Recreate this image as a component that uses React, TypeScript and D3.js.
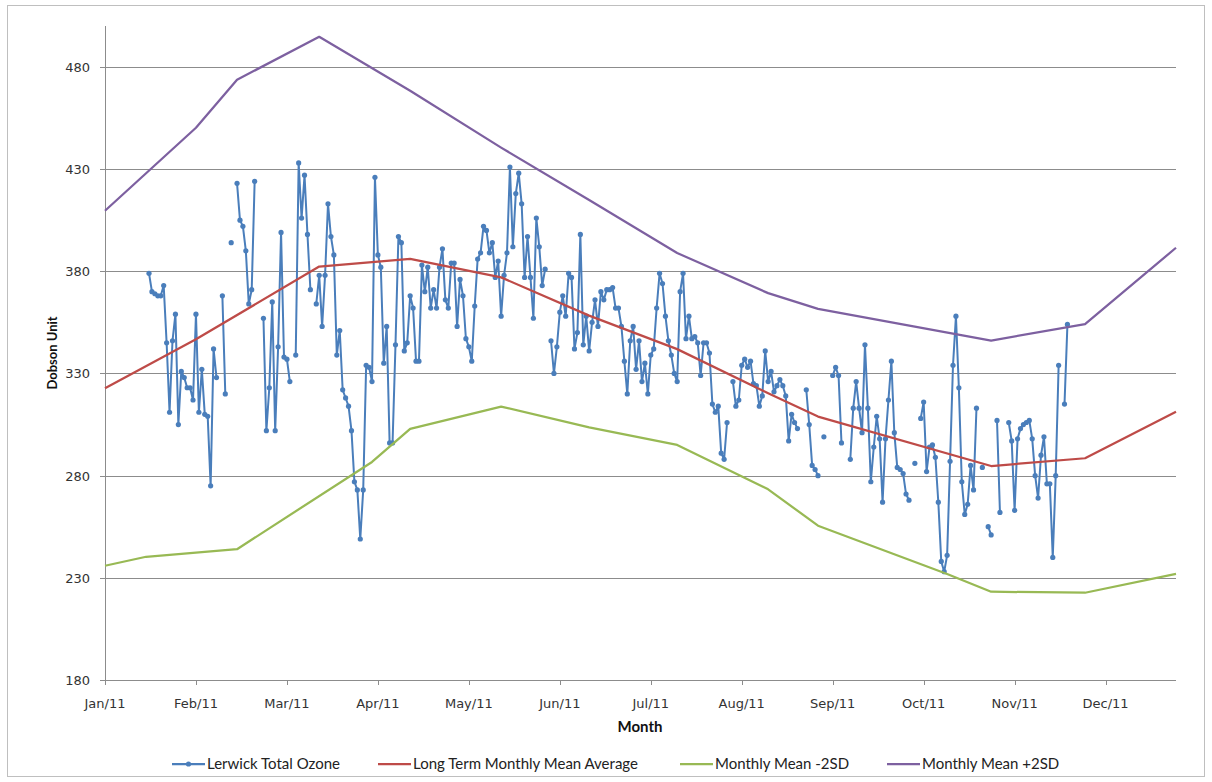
import React, { useRef, useEffect } from "react";
import * as d3 from "d3";

// daily series, first value is day 15 (16 Jan 2011), null = no reading
const ozoneFirstDay = 15;
const ozone = [
  379, 370, 369, 368, 368, 373, 345, 311, 346, 359, 305, 331, 328, 323, 323, 317, 359, 311, 332, 310, 309, 275, 342, 328,
  null, 368, 320, null, 394, null,
  423, 405, 402, 390, 364, 371, 424, null, null,
  357, 302, 323, 365, 302, 343, 399, 338, 337, 326, null,
  339, 433, 406, 427, 398, 371, null,
  364, 378, 353, 378, 413, 397, 388, 339, 351, 322, 318, 314, 302, 277, 273, 249, 273, 334, 333, 326,
  426, 388, 382, 335, 353, 296, 296, 344, 397, 394, 341, 345, 368, 362, 336, 336, 383, 370, 382, 362,
  371, 362, 382, 391, 366, 362, 384, 384, 353, 376, 368, 347, 343, 336, 363, 386, 389, 402, 400, 389,
  394, 377, 385, 358, 378, 389, 431, 392, 418, 428, 413, 377, 397, 377, 357, 406, 392, 373, 381, null,
  346, 330, 343, 360, 368, 358, 379, 377, 342, 350, 398, 344, 358, 341, 355, 366, 353, 370, 366, 371,
  371, 372, 362, 362, 353, 336, 320, 346, 353, 332, 346, 326, 335, 320, 339, 342, 362, 379, 374, 358,
  346, 339, 330, 326, 370, 379, 347, 358, 347, 348, 345, 329, 345, 345, 340, 315, 311, 314, 291, 288,
  306, null,
  326, 314, 317, 334, 337, 333, 336, 325, 324, 314, 319, 341, 326, 331, 321, 324, 327, 324, 319, 297,
  310, 306, 303, null, null,
  322, 305, 285, 283, 280, null, 299, null, null,
  329, 333, 329, 296, null, null,
  288, 313, 326, 313, 301, 344, 313, 277, 294, 309, 298, 267, 298, 317, 336, 301, 284, 283, 281, 271,
  268, null, 286, null,
  308, 316, 282, 294, 295, 289, 267, 238, 233, 241, 287, 334, 358, 323, 277, 261, 266, 285, 273, 313,
  null, 284, null, 255, 251, null, 307, 262, null, null,
  306, 297, 263, 298, 303, 305, 306, 307, 298, 280, 269, 290, 299, 276, 276, 240, 280, 334, null,
  315, 354,
];

// long term monthly lines: day of year / Dobson units
const meanDays = [0, 31, 73, 104, 135, 165, 195, 226, 243, 302, 334, 365];
const meanValues = [322.8, 346.7, 382.3, 386.1, 377, 358.3, 341.9, 320.3, 308.9, 284.7, 288.5, 311.3];

const lowDays = [0, 14, 45, 91, 104, 135, 165, 195, 226, 243, 287, 302, 334, 365];
const lowValues = [235.9, 240.3, 244, 286.7, 302.9, 313.8, 303.6, 295, 273.3, 255.5, 231.9, 223.2, 222.7, 231.9];

const highDays = [0, 31, 45, 73, 104, 135, 165, 195, 226, 243, 302, 334, 365];
const highValues = [409.6, 450.2, 473.7, 494.7, 468.3, 440.5, 414.9, 388.9, 369.3, 361.6, 346.1, 354.1, 391.5];

const yTicks = [180, 230, 280, 330, 380, 430, 480];
const seriesNames = [
  "Lerwick Total Ozone",
  "Long Term Monthly Mean Average",
  "Monthly Mean -2SD",
  "Monthly Mean +2SD",
];
const colors = ["#4a7ebb", "#be4b48", "#98b954", "#7d60a0"];

const W = 1212, H = 782;
const left = 105, right = 1176, top = 26, bottom = 680;
const t0 = Date.UTC(2011, 0, 1);
const day = (n: number) => new Date(t0 + n * 864e5);

export default function App() {
  const svgRef = useRef<SVGSVGElement>(null);

  useEffect(() => {
    const svg = d3.select(svgRef.current);
    svg.selectAll("*").remove();

    const x = d3.scaleUtc().domain([day(0), day(365)]).range([left, right]);
    const y = d3.scaleLinear().domain([180, 500]).range([bottom, top]);
    const fmt = d3.utcFormat("%b/%y");
    const monthTicks = d3.range(0, 365, 31).map(day);

    svg.append("rect")
      .attr("x", 7.5).attr("y", 5.5)
      .attr("width", W - 15).attr("height", H - 11)
      .attr("fill", "#fff").attr("stroke", "#bfbfbf");

    // grid + y ticks
    const g = svg.append("g");
    g.selectAll("line.grid").data(yTicks).join("line")
      .attr("x1", left - 5).attr("x2", right)
      .attr("y1", (d) => Math.round(y(d)) + 0.5).attr("y2", (d) => Math.round(y(d)) + 0.5)
      .attr("stroke", "#8c8c8c").attr("stroke-width", 1);
    g.append("line")
      .attr("x1", left + 0.5).attr("x2", left + 0.5)
      .attr("y1", top).attr("y2", bottom)
      .attr("stroke", "#8c8c8c");
    g.selectAll("line.xt").data(monthTicks).join("line")
      .attr("x1", (d) => Math.round(x(d)) + 0.5).attr("x2", (d) => Math.round(x(d)) + 0.5)
      .attr("y1", bottom).attr("y2", bottom + 5)
      .attr("stroke", "#8c8c8c");

    g.selectAll("text.yl").data(yTicks).join("text")
      .attr("x", 90).attr("y", (d) => y(d) + 5)
      .attr("text-anchor", "end")
      .attr("font-family", "DejaVu Sans, sans-serif").attr("font-size", 13)
      .attr("fill", "#333")
      .text((d) => d);
    g.selectAll("text.xl").data(monthTicks).join("text")
      .attr("x", (d) => x(d)).attr("y", 708)
      .attr("text-anchor", "middle")
      .attr("font-family", "DejaVu Sans, sans-serif").attr("font-size", 13)
      .attr("fill", "#333")
      .text((d) => fmt(d));

    svg.append("text")
      .attr("x", 640).attr("y", 732).attr("text-anchor", "middle")
      .attr("font-family", "Lato, sans-serif").attr("font-weight", "bold").attr("font-size", 15)
      .attr("fill", "#111").text("Month");
    svg.append("text")
      .attr("transform", `translate(57,353) rotate(-90)`).attr("text-anchor", "middle")
      .attr("font-family", "Lato, sans-serif").attr("font-weight", "bold").attr("font-size", 13)
      .attr("fill", "#111").text("Dobson Unit");

    // series
    const pts = ozone.map((v, i) => ({ d: day(ozoneFirstDay + i), v }));
    const line = d3.line<{ d: Date; v: number | null }>()
      .defined((p) => p.v != null)
      .x((p) => x(p.d)).y((p) => y(p.v as number));

    svg.append("path").datum(pts)
      .attr("d", line).attr("fill", "none")
      .attr("stroke", colors[0]).attr("stroke-width", 2).attr("stroke-linejoin", "round");
    svg.append("g").selectAll("circle").data(pts.filter((p) => p.v != null)).join("circle")
      .attr("cx", (p) => x(p.d)).attr("cy", (p) => y(p.v as number)).attr("r", 2.6)
      .attr("fill", colors[0]);

    const monthly = [
      [meanDays, meanValues],
      [lowDays, lowValues],
      [highDays, highValues],
    ];
    monthly.forEach(([ds, vs], i) => {
      svg.append("path")
        .datum(ds.map((dd, k) => ({ d: day(dd), v: vs[k] })))
        .attr("d", line).attr("fill", "none")
        .attr("stroke", colors[i + 1]).attr("stroke-width", 2.25).attr("stroke-linejoin", "round");
    });

    // legend
    const legX = [172, 378, 680, 887];
    const leg = svg.append("g");
    seriesNames.forEach((name, i) => {
      const lx = legX[i];
      leg.append("line")
        .attr("x1", lx).attr("x2", lx + 33).attr("y1", 764).attr("y2", 764)
        .attr("stroke", colors[i]).attr("stroke-width", 2.25);
      if (i === 0) leg.append("circle").attr("cx", lx + 16.5).attr("cy", 764).attr("r", 2.6).attr("fill", colors[0]);
      leg.append("text")
        .attr("x", lx + 35).attr("y", 769)
        .attr("font-family", "Lato, sans-serif").attr("font-size", 15)
        .attr("fill", "#222").text(name);
    });
  }, []);

  return (
    <svg ref={svgRef} width={W} height={H} style={{ position: "absolute", left: 0, top: 0 }} />
  );
}
